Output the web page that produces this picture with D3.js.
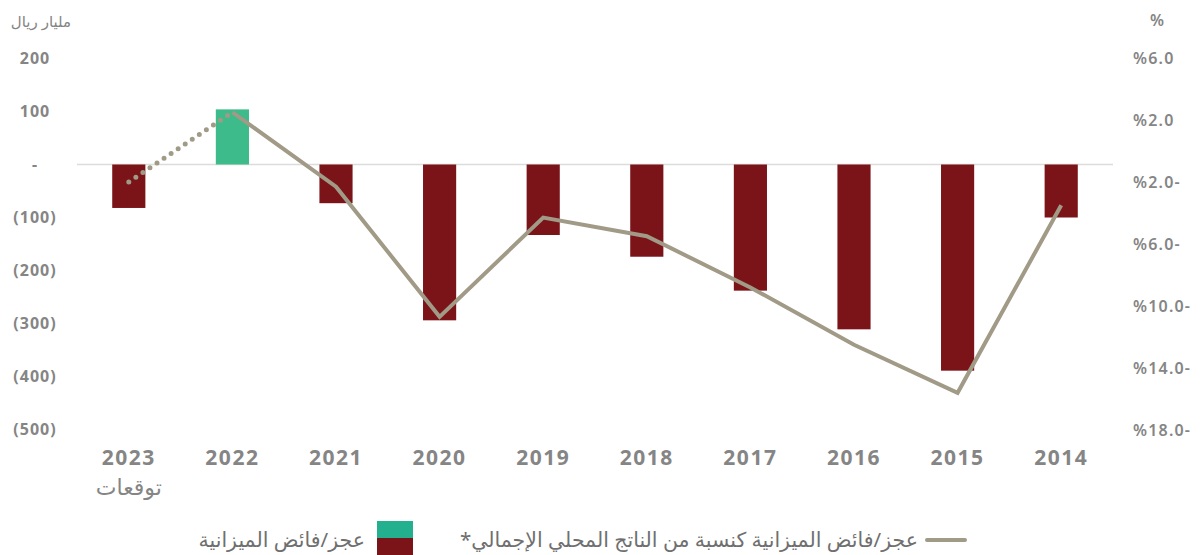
<!DOCTYPE html>
<html>
<head>
<meta charset="utf-8">
<script src="https://cdn.jsdelivr.net/npm/d3@7"></script>
<style>
  body { margin: 0; background: #fff; }
  svg text { font-family: "Noto Sans", "DejaVu Sans", sans-serif; }
</style>
</head>
<body>
<div id="container"></div>
<script>
/* DATA */
const years = ["2023", "2022", "2021", "2020", "2019", "2018", "2017", "2016", "2015", "2014"];
const balance = [-82, 104, -73, -294, -133, -174, -238, -311, -389, -100];   // billion riyal
const balancePct = [-2.0, 2.5, -2.3, -10.7, -4.3, -5.5, -8.8, -12.5, -15.6, -3.5]; // % of GDP
const leftTicks = [200, 100, 0, -100, -200, -300, -400, -500];
const leftTickLabels = ["200", "100", "-", "(100)", "(200)", "(300)", "(400)", "(500)"];
const rightTicks = [6, 2, -2, -6, -10, -14, -18];
const rightTickLabels = ["%6.0", "%2.0", "%2.0-", "%6.0-", "%10.0-", "%14.0-", "%18.0-"];

/* CONSTANTS */
const width = 1202, height = 555;
const maroon = "#7b1418", green = "#3dbb8a", lineColor = "#a09a87", textColor = "#858585";

const svg = d3.select("#container").append("svg")
  .attr("width", width).attr("height", height);

// scales
const xScale = d3.scaleBand()
  .domain(years)
  .range([77, 1113])
  .paddingInner(0.68)
  .paddingOuter(0.34);

const yScale = d3.scaleLinear()
  .domain([-500, 200])
  .range([429.5, 58.5]);

const yPct = d3.scaleLinear()
  .domain([-18, 6])
  .range([430, 58]);

// zero line
svg.append("line")
  .attr("x1", 77).attr("x2", 1113)
  .attr("y1", yScale(0)).attr("y2", yScale(0))
  .attr("stroke", "#dcdcdc").attr("stroke-width", 1.5);

// left axis labels
svg.append("g").selectAll("text")
  .data(leftTicks)
  .join("text")
  .attr("x", 35)
  .attr("y", d => yScale(d))
  .attr("dy", "0.35em")
  .attr("text-anchor", "middle")
  .attr("font-size", 16)
  .attr("font-weight", 700)
  .attr("letter-spacing", 1)
  .attr("fill", textColor)
  .text((d, i) => leftTickLabels[i]);

// right axis labels
svg.append("g").selectAll("text")
  .data(rightTicks)
  .join("text")
  .attr("x", 1133)
  .attr("y", d => yPct(d))
  .attr("dy", "0.35em")
  .attr("text-anchor", "start")
  .attr("font-size", 16)
  .attr("font-weight", 600)
  .attr("letter-spacing", 1.2)
  .attr("fill", textColor)
  .text((d, i) => rightTickLabels[i]);

// axis titles
svg.append("text")
  .attr("x", 71).attr("y", 27)
  .attr("direction", "rtl")
  .attr("text-anchor", "start")
  .attr("font-size", 15)
  .attr("fill", textColor)
  .text("مليار ريال");

svg.append("text")
  .attr("x", 1157).attr("y", 26)
  .attr("text-anchor", "middle")
  .attr("font-size", 16)
  .attr("font-weight", 600)
  .attr("fill", textColor)
  .text("%");

// bars
svg.append("g").selectAll("rect")
  .data(years)
  .join("rect")
  .attr("x", d => xScale(d))
  .attr("width", xScale.bandwidth())
  .attr("y", (d, i) => yScale(Math.max(0, balance[i])))
  .attr("height", (d, i) => Math.abs(yScale(balance[i]) - yScale(0)))
  .attr("fill", (d, i) => balance[i] >= 0 ? green : maroon);

// line (solid for actuals, dotted to forecast)
const pts = years.map((y, i) => [xScale(y) + xScale.bandwidth() / 2, yPct(balancePct[i])]);
const lineGen = d3.line();

svg.append("path")
  .attr("d", lineGen(pts.slice(1)))
  .attr("fill", "none")
  .attr("stroke", lineColor)
  .attr("stroke-width", 4);

svg.append("path")
  .attr("d", lineGen(pts.slice(0, 2)))
  .attr("fill", "none")
  .attr("stroke", lineColor)
  .attr("stroke-width", 5)
  .attr("stroke-linecap", "round")
  .attr("stroke-dasharray", "0 8.5");

// x labels
svg.append("g").selectAll("text")
  .data(years)
  .join("text")
  .attr("x", d => xScale(d) + xScale.bandwidth() / 2)
  .attr("y", 458)
  .attr("dy", "0.35em")
  .attr("text-anchor", "middle")
  .attr("font-size", 21)
  .attr("font-weight", 700)
  .attr("letter-spacing", 1.5)
  .attr("fill", textColor)
  .text(d => d);

svg.append("text")
  .attr("x", xScale("2023") + xScale.bandwidth() / 2)
  .attr("y", 487)
  .attr("dy", "0.35em")
  .attr("text-anchor", "middle")
  .attr("font-size", 22)
  .attr("fill", textColor)
  .text("توقعات");

// legend
const legY = 540;
svg.append("line")
  .attr("x1", 927).attr("x2", 965)
  .attr("y1", legY).attr("y2", legY)
  .attr("stroke", lineColor).attr("stroke-width", 4)
  .attr("stroke-linecap", "round");

svg.append("text")
  .attr("x", 918).attr("y", legY)
  .attr("dy", "0.35em")
  .attr("direction", "rtl")
  .attr("text-anchor", "start")
  .attr("font-size", 20.5)
  .attr("fill", "#6f6f6f")
  .text("عجز/فائض الميزانية كنسبة من الناتج المحلي الإجمالي*");

svg.append("rect")
  .attr("x", 377).attr("y", 521).attr("width", 36).attr("height", 17)
  .attr("fill", "#22b08f");
svg.append("rect")
  .attr("x", 377).attr("y", 538).attr("width", 36).attr("height", 17)
  .attr("fill", maroon);

svg.append("text")
  .attr("x", 365).attr("y", legY)
  .attr("dy", "0.35em")
  .attr("direction", "rtl")
  .attr("text-anchor", "start")
  .attr("font-size", 20.5)
  .attr("fill", "#6f6f6f")
  .text("عجز/فائض الميزانية");
</script>
</body>
</html>
